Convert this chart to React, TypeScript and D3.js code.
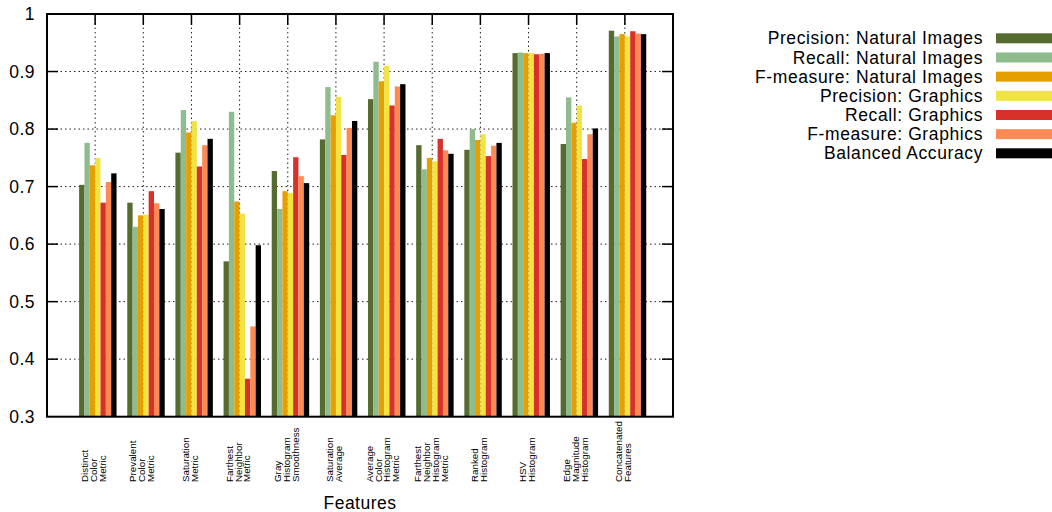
import React from 'react';
import * as d3 from 'd3';

// feature groups (x tick labels, one entry per line)
const categories: string[][] = [
  ['Distinct', 'Color', 'Metric'],
  ['Prevalent', 'Color', 'Metric'],
  ['Saturation', 'Metric'],
  ['Farthest', 'Neighbor', 'Metric'],
  ['Gray', 'Histogram', 'Smoothness'],
  ['Saturation', 'Average'],
  ['Average', 'Color', 'Histogram', 'Metric'],
  ['Farthest', 'Neighbor', 'Histogram', 'Metric'],
  ['Ranked', 'Histogram'],
  ['HSV', 'Histogram'],
  ['Edge', 'Magnitude', 'Histogram'],
  ['Concatenated', 'Features'],
];

const precisionNatural = [0.703, 0.672, 0.759, 0.570, 0.727, 0.782, 0.852, 0.772, 0.764, 0.932, 0.774, 0.971];
const recallNatural = [0.776, 0.630, 0.833, 0.830, 0.661, 0.873, 0.917, 0.730, 0.800, 0.933, 0.855, 0.961];
const fmeasureNatural = [0.737, 0.650, 0.794, 0.674, 0.692, 0.824, 0.883, 0.750, 0.781, 0.932, 0.811, 0.965];
const precisionGraphics = [0.750, 0.651, 0.814, 0.653, 0.689, 0.856, 0.910, 0.744, 0.791, 0.932, 0.841, 0.961];
const recallGraphics = [0.672, 0.692, 0.735, 0.366, 0.751, 0.755, 0.841, 0.783, 0.753, 0.930, 0.748, 0.970];
const fmeasureGraphics = [0.708, 0.671, 0.772, 0.457, 0.718, 0.802, 0.874, 0.763, 0.771, 0.931, 0.791, 0.966];
const balancedAccuracy = [0.723, 0.661, 0.783, 0.598, 0.706, 0.814, 0.878, 0.757, 0.776, 0.932, 0.801, 0.965];

const seriesNames = [
  'Precision: Natural Images',
  'Recall: Natural Images',
  'F-measure: Natural Images',
  'Precision: Graphics',
  'Recall: Graphics',
  'F-measure: Graphics',
  'Balanced Accuracy',
];
const seriesValues = [
  precisionNatural,
  recallNatural,
  fmeasureNatural,
  precisionGraphics,
  recallGraphics,
  fmeasureGraphics,
  balancedAccuracy,
];
const seriesColors = ['#556b2f', '#8fbc8f', '#e69f00', '#f0e442', '#d8312a', '#fd8a55', '#000000'];

const yTicks = [0.3, 0.4, 0.5, 0.6, 0.7, 0.8, 0.9, 1];

const FONT = '"Liberation Sans", Arial, Helvetica, sans-serif';

const App: React.FC = () => {
  const width = 1052;
  const height = 512;

  const x = d3.scaleLinear().domain([-1, 12]).range([47, 673]);
  const y = d3.scaleLinear().domain([0.3, 1]).range([416.7, 14]);
  const [x0, x1] = x.range();
  const [yb, yt] = y.range();

  const slot = 1 / 9; // 7 bars + gap of 2 per cluster
  const barW = x(slot) - x(0);
  const tickLen = 11;
  const lineGap = 8.9;

  return (
    <svg
      width={width}
      height={height}
      style={{ position: 'absolute', left: 0, top: 0, background: '#fff' }}
      fontFamily={FONT}
    >
      {/* grid */}
      <g stroke="#222" strokeWidth={1} strokeDasharray="1.5,3">
        {yTicks.filter(t => t > 0.3 && t < 1).map(t => (
          <line key={'gy' + t} x1={x0} x2={x1} y1={y(t)} y2={y(t)} />
        ))}
        {categories.map((_, i) => (
          <line key={'gx' + i} x1={x(i)} x2={x(i)} y1={yt} y2={yb} />
        ))}
      </g>

      {/* bars */}
      {seriesValues.map((vals, j) => (
        <g key={'s' + j} fill={seriesColors[j]}>
          {vals.map((v, i) => (
            <rect
              key={i}
              x={x(i - 1 / 3 + j * slot)}
              y={y(v)}
              width={barW}
              height={yb - y(v)}
            />
          ))}
        </g>
      ))}

      {/* ticks */}
      <g stroke="#000" strokeWidth={1.5}>
        {yTicks.filter(t => t > 0.3 && t < 1).map(t => (
          <g key={'ty' + t}>
            <line x1={x0} x2={x0 + tickLen} y1={y(t)} y2={y(t)} />
            <line x1={x1} x2={x1 - tickLen} y1={y(t)} y2={y(t)} />
          </g>
        ))}
        {categories.map((_, i) => (
          <line key={'tx' + i} x1={x(i)} x2={x(i)} y1={yt} y2={yt + tickLen} />
        ))}
      </g>

      {/* frame */}
      <rect x={x0} y={yt} width={x1 - x0} height={yb - yt} fill="none" stroke="#000" strokeWidth={2} />

      {/* y tick labels */}
      {yTicks.map(t => (
        <text key={'ly' + t} x={35} y={y(t)} dy="0.35em" textAnchor="end" fontSize={17.5} letterSpacing={0.5} fill="#000">
          {d3.format('~g')(t)}
        </text>
      ))}

      {/* x tick labels, rotated */}
      {categories.map((lines, i) =>
        lines.map((line, k) => {
          const cx = x(i) - 1.5 + (k - (lines.length - 1) / 2) * lineGap;
          return (
            <text
              key={'lx' + i + '-' + k}
              transform={`translate(${cx},482) rotate(-90)`}
              dy="0.35em"
              textAnchor="start"
              fontSize={9.8}
              fill="#000"
            >
              {line}
            </text>
          );
        })
      )}

      {/* axis title */}
      <text x={(x0 + x1) / 2} y={509} textAnchor="middle" fontSize={17.5} letterSpacing={0.5} fill="#000">
        Features
      </text>

      {/* legend */}
      {seriesNames.map((name, j) => {
        const cy = 38.3 + j * 19.17;
        return (
          <g key={'lg' + j}>
            <text x={983} y={cy} dy="0.35em" textAnchor="end" fontSize={17.5} letterSpacing={0.6} fill="#000">
              {name}
            </text>
            <rect x={996} y={cy - 5} width={56} height={10} fill={seriesColors[j]} />
          </g>
        );
      })}
    </svg>
  );
};

export default App;
